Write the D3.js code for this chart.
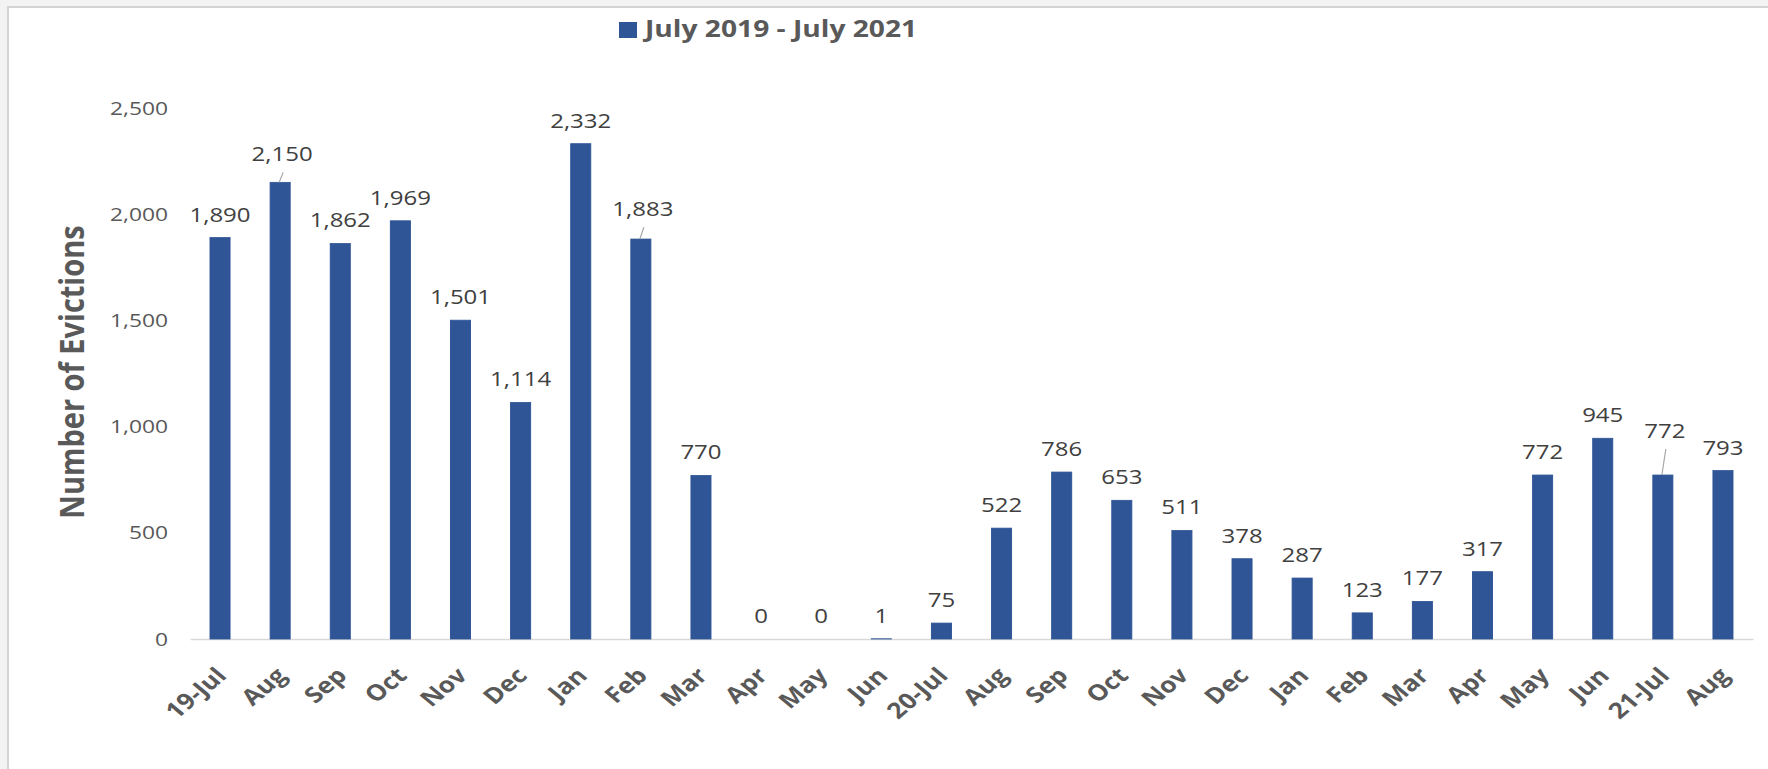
<!DOCTYPE html>
<html>
<head>
<meta charset="utf-8">
<script src="https://cdnjs.cloudflare.com/ajax/libs/d3/7.8.5/d3.min.js"></script>
<style>
  body { margin: 0; background: #f3f3f3; }
  svg { display: block; }
</style>
</head>
<body>
<script>
// Monthly evictions, July 2019 - August 2021
const months = ["19-Jul", "Aug", "Sep", "Oct", "Nov", "Dec", "Jan", "Feb", "Mar", "Apr", "May", "Jun",
                "20-Jul", "Aug", "Sep", "Oct", "Nov", "Dec", "Jan", "Feb", "Mar", "Apr", "May", "Jun",
                "21-Jul", "Aug"];
const evictions = [1890, 2150, 1862, 1969, 1501, 1114, 2332, 1883, 770, 0, 0, 1,
                   75, 522, 786, 653, 511, 378, 287, 123, 177, 317, 772, 945, 772, 793];
const yTicks = [0, 500, 1000, 1500, 2000, 2500];
const seriesName = "July 2019 - July 2021";

// labels that Excel pushed up with a leader line (index -> lift in px)
const leaderLift = { 1: 5, 7: 7, 24: 21 };

const W = 1768, H = 769;
const S = 1.2;            // the original screenshot is stretched horizontally
const sx = v => v / S;    // screen x -> inner x

const svg = d3.select("body").append("svg")
    .attr("width", W)
    .attr("height", H);

// frame
svg.append("rect").attr("width", W).attr("height", H).attr("fill", "#f3f3f3");
svg.append("rect")
    .attr("x", 8).attr("y", 7)
    .attr("width", W).attr("height", H)
    .attr("fill", "#fff")
    .attr("stroke", "#d4d4d4")
    .attr("stroke-width", 2);

const g = svg.append("g").attr("transform", `scale(${S},1)`);

// scales
const x = d3.scaleBand()
    .domain(d3.range(months.length))
    .range([sx(190), sx(1753)])
    .paddingInner(0.667)
    .paddingOuter(0.333);

const y = d3.scaleLinear()
    .domain([0, 2500])
    .range([639, 108]);

// y axis (labels only)
const yAxis = g.append("g")
    .attr("transform", `translate(${sx(168)},0)`)
    .call(d3.axisLeft(y).tickValues(yTicks).tickSize(0).tickPadding(0).tickFormat(d3.format(",")));
yAxis.select(".domain").remove();
yAxis.selectAll("text")
    .attr("fill", "#595959")
    .style("font-family", "Open Sans")
    .style("font-size", "19px");

// x axis
const xAxis = g.append("g")
    .attr("transform", `translate(0,${y(0)})`)
    .call(d3.axisBottom(x).tickSize(0).tickFormat(i => months[i]));
xAxis.select(".domain")
    .attr("stroke", "#d9d9d9")
    .attr("stroke-width", 1.6);
xAxis.selectAll("text")
    .attr("x", 0).attr("y", 0).attr("dy", 0)
    .attr("transform", `translate(${sx(8)},38) rotate(-45)`)
    .attr("text-anchor", "end")
    .attr("fill", "#595959")
    .style("font-family", "Open Sans")
    .style("font-weight", "bold")
    .style("font-size", "22px");

// bars
g.selectAll(".bar")
    .data(evictions)
    .join("rect")
    .attr("class", "bar")
    .attr("x", (d, i) => x(i))
    .attr("y", d => y(d))
    .attr("width", x.bandwidth())
    .attr("height", d => y(0) - y(d))
    .attr("fill", "#2f5597")
    .attr("stroke", "#2f5597")
    .attr("stroke-width", 0.8);

// leader lines
const cx = i => x(i) + x.bandwidth() / 2;
g.selectAll(".leader")
    .data(Object.keys(leaderLift).map(Number))
    .join("line")
    .attr("class", "leader")
    .attr("x1", i => cx(i) + sx(3))
    .attr("y1", i => y(evictions[i]) - 16 - leaderLift[i] + 11)
    .attr("x2", i => cx(i) - sx(1))
    .attr("y2", i => y(evictions[i]))
    .attr("stroke", "#a6a6a6")
    .attr("stroke-width", 1);

// data labels
g.selectAll(".lbl")
    .data(evictions)
    .join("text")
    .attr("class", "lbl")
    .attr("x", (d, i) => cx(i) + (leaderLift[i] ? sx(2) : 0))
    .attr("y", (d, i) => y(d) - 16 - (leaderLift[i] || 0))
    .attr("text-anchor", "middle")
    .attr("fill", "#404040")
    .style("font-family", "Open Sans")
    .style("font-size", "20px")
    .text(d => d3.format(",")(d));

// axis title
g.append("text")
    .attr("transform", `translate(${sx(84)},372) rotate(-90)`)
    .attr("text-anchor", "middle")
    .attr("fill", "#595959")
    .style("font-family", "Open Sans")
    .style("font-weight", "bold")
    .style("font-size", "29px")
    .text("Number of Evictions");

// legend
g.append("rect")
    .attr("x", sx(619)).attr("y", 22)
    .attr("width", sx(18)).attr("height", 16)
    .attr("fill", "#2f5597");
g.append("text")
    .attr("x", sx(645)).attr("y", 37)
    .attr("fill", "#595959")
    .style("font-family", "Open Sans")
    .style("font-weight", "bold")
    .style("font-size", "23.5px")
    .text(seriesName);
</script>
</body>
</html>
